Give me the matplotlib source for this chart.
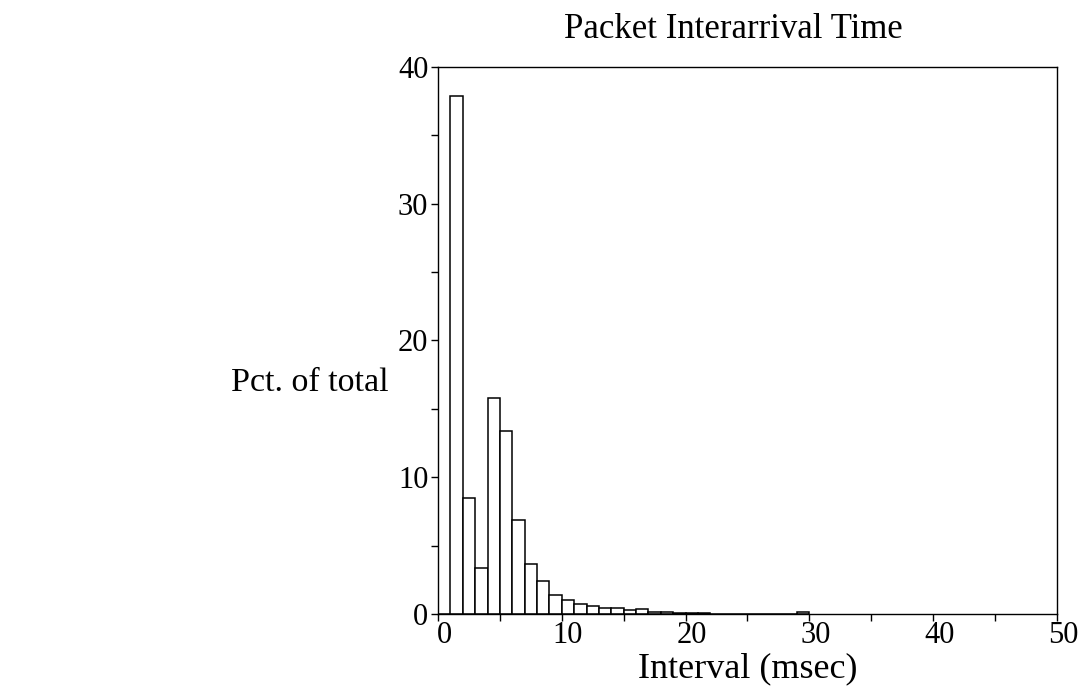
""" Packet interarrival time histogram """

import numpy as np
import matplotlib
matplotlib.use('Agg')
import matplotlib.pyplot as plt
import matplotlib.transforms as mtransforms
from matplotlib.ticker import MultipleLocator

# percent of total per 1 msec bin, bins start at 0
pct_total = [0.0, 37.9, 8.45, 3.35, 15.76, 13.36, 6.9, 3.62, 2.43, 1.42,
             1.0, 0.74, 0.55, 0.45, 0.45, 0.28, 0.38, 0.16, 0.15, 0.07,
             0.07, 0.05, 0.02, 0.02, 0.01, 0.01, 0.01, 0.01, 0.02, 0.12]
bin_width = 1.0
x_ticks = [0, 10, 20, 30, 40, 50]
y_ticks = [0, 10, 20, 30, 40]


def main():
    """ Main Function """
    plt.rcParams['font.family'] = ['Liberation Serif', 'DejaVu Serif']
    fig = plt.figure(figsize=(10.86, 6.94), dpi=100)
    ax = fig.add_axes([0.4033, 0.1153, 0.570, 0.7882])

    lefts = np.arange(len(pct_total)) * bin_width
    ax.bar(lefts, pct_total, width=bin_width, align='edge',
           color='white', edgecolor='black', linewidth=1.1)

    ax.set_xlim(0, 50)
    ax.set_ylim(0, 40)
    ax.set_xticks(x_ticks)
    ax.set_yticks(y_ticks)
    ax.xaxis.set_minor_locator(MultipleLocator(5))
    ax.yaxis.set_minor_locator(MultipleLocator(5))
    ax.tick_params(which='both', direction='out', length=5, width=1.0)
    ax.tick_params(axis='both', labelsize=22)
    ax.tick_params(axis='x', pad=0)
    ax.tick_params(axis='y', pad=2)
    for spine in ax.spines.values():
        spine.set_linewidth(1.0)

    # x tick labels sit a little right of their ticks in the original
    shift = mtransforms.ScaledTranslation(0.06, 0, fig.dpi_scale_trans)
    for lbl in ax.get_xticklabels():
        lbl.set_transform(lbl.get_transform() + shift)

    # title, axis labels placed by hand like the original layout
    ax.text(0.477, 1.068, 'Packet Interarrival Time', fontsize=25,
            ha='center', va='center', transform=ax.transAxes)
    ax.set_xlabel('Interval (msec)', fontsize=26, va='center')
    ax.xaxis.set_label_coords(0.5, -0.1)
    ax.set_ylabel('Pct. of total', fontsize=24.5, rotation=0,
                  ha='center', va='center')
    ax.yaxis.set_label_coords(-0.207, 0.422)

    fig.savefig('out.png', dpi=100)


if __name__ == "__main__":
    main()
